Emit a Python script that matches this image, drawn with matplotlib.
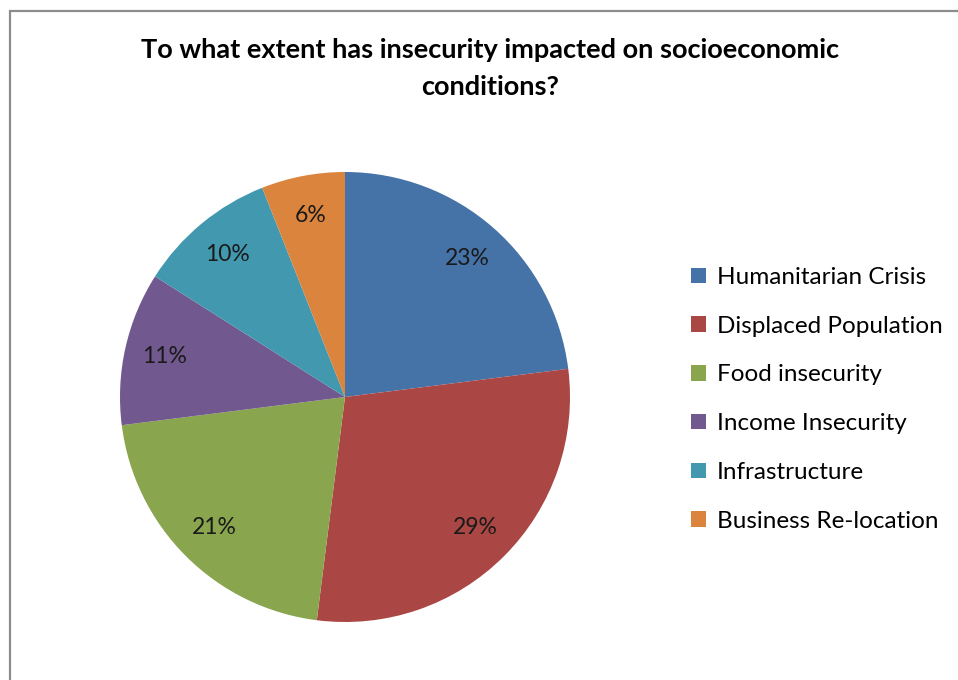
import matplotlib
matplotlib.use("Agg")
from matplotlib import pyplot as plt
from matplotlib.patches import Rectangle

categories = ["Humanitarian Crisis", "Displaced Population", "Food insecurity",
              "Income Insecurity", "Infrastructure", "Business Re-location"]
shares = [23, 29, 21, 11, 10, 6]
colors = ["#4572A7", "#AA4643", "#89A54E", "#71588F", "#4198AF", "#DB843D"]

plt.rcParams["font.family"] = ["Lato", "DejaVu Sans"]

W, H = 958, 680
fig = plt.figure(figsize=(W / 100, H / 100), dpi=100)

# pie centre and radius in pixels
cx, cy, r = 345, 397, 225
ax = fig.add_axes([(cx - r) / W, (H - cy - r) / H, 2 * r / W, 2 * r / H])
wedges, _, autotexts = ax.pie(
    shares, colors=colors, startangle=90, counterclock=False,
    autopct="%d%%", pctdistance=0.82, radius=1,
    textprops=dict(fontsize=16.5, color="#1a1a1a"),
)
ax.set_xlim(-1, 1)
ax.set_ylim(-1, 1)
ax.set_aspect("equal")
ax.axis("off")

fig.text(490 / W, 1 - 50 / H, "To what extent has insecurity impacted on socioeconomic",
         ha="center", va="center", fontsize=19.5, fontweight="bold")
fig.text(490 / W, 1 - 87 / H, "conditions?",
         ha="center", va="center", fontsize=19.5, fontweight="bold")

fig.legend(wedges, categories, loc="upper left", bbox_to_anchor=(691 / W, 1 - 267 / H),
           frameon=False, fontsize=17.5, handlelength=0.6, handleheight=0.6,
           handletextpad=0.45, labelspacing=1.14, borderaxespad=0,
           borderpad=0)

# chart frame (only left and top edges visible)
fig.add_artist(Rectangle((10 / W, -0.1), 1.2, 1.1 - 11 / H, fill=False,
                         edgecolor="#8c8c8c", lw=1.6, transform=fig.transFigure))

fig.savefig("out.png", dpi=100, facecolor="white")
